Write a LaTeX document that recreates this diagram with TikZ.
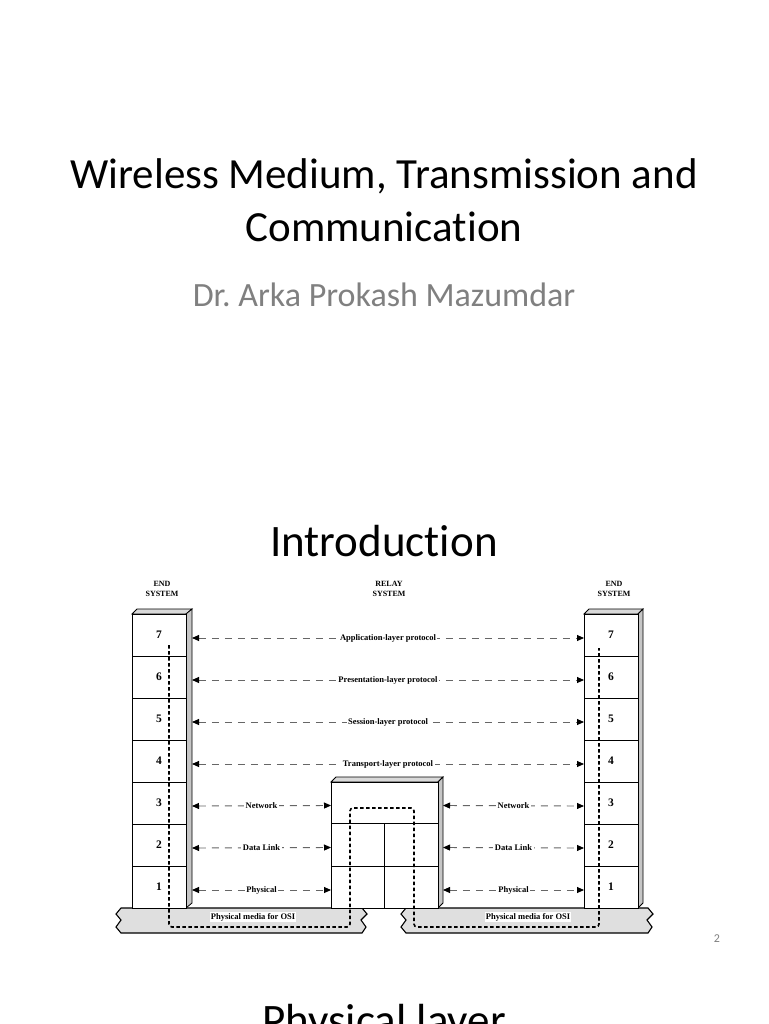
\documentclass[tikz,border=0pt]{standalone}
\usepackage{fontspec}
\setmainfont{Carlito}[Ligatures=NoCommon]
\newfontfamily\tnr{Liberation Serif}
\usetikzlibrary{arrows.meta}
\frenchspacing
\tikzset{
  layer/.style={draw, line width=0.9pt, fill=white, minimum width=54pt, minimum height=42pt, inner sep=0pt, outer sep=0pt, font=\tnr\bfseries\fontsize{11.5}{12}\selectfont},
  cell/.style={draw, line width=0.9pt, fill=white, inner sep=0pt, outer sep=0pt},
  topface/.style={draw, line width=0.8pt, fill=gray!30},
  sideface/.style={draw, line width=0.8pt, fill=gray!45},
  slab/.style={draw, line width=1.1pt, fill=gray!25},
  proto/.style={draw=black!60, line width=0.9pt, dash pattern=on 7pt off 6pt, {Triangle[color=black,length=7pt,width=6pt]}-{Triangle[color=black,length=7pt,width=6pt]}},
  lbl/.style={fill=white, inner sep=1.5pt, font=\tnr\bfseries\fontsize{8.5}{9}\selectfont},
  syslbl/.style={align=center, font=\tnr\bfseries\fontsize{8}{9.5}\selectfont},
  mediatxt/.style={fill=white, inner sep=1pt, font=\tnr\bfseries\fontsize{8.5}{9}\selectfont},
  datapath/.style={draw=black, line width=1.6pt, dash pattern=on 3.5pt off 2.5pt, rounded corners=3pt},
  title/.style={font=\fontsize{43}{50}\selectfont, anchor=base},
}
\begin{document}
\begin{tikzpicture}[x=1pt, y=-1pt]
\useasboundingbox (0,0) rectangle (768,1024);
\clip (0,0) rectangle (768,1024);
\fill[white] (0,0) rectangle (768,1024);

% Titles
\node[title] (t1) at (384,189) {Wireless Medium, Transmission and};
\node[title] (t2) at (384,241) {Communication};
\node[anchor=base, font=\fontsize{34}{40}\selectfont, text=black!50] (sub) at (384,306) {Dr. Arka Prokash Mazumdar};
\node[anchor=base, font=\fontsize{45}{52}\selectfont] (intro) at (384,556) {Introduction};
\node[anchor=base, font=\fontsize{45}{52}\selectfont] (phys) at (384,1035) {Physical layer};
\node[anchor=base, font=\fontsize{12}{14}\selectfont, text=black!50] (pnum) at (717,942) {2};

% System labels
\node[syslbl] (les) at (162,589) {END\\SYSTEM};
\node[syslbl] (rel) at (389,589) {RELAY\\SYSTEM};
\node[syslbl] (res) at (614,589) {END\\SYSTEM};

% Physical media slabs
\path[slab] (121,908) -- (362,908) -- (367,914) -- (361,920) -- (366,927) -- (362,933)
  -- (121,933) -- (116,927) -- (121,920) -- (116,914) -- cycle;
\path[slab] (406,908) -- (648,908) -- (653,914) -- (647,920) -- (652,927) -- (648,933)
  -- (406,933) -- (401,927) -- (406,920) -- (401,914) -- cycle;
\node[mediatxt] (m1) at (253,917) {Physical media for OSI};
\node[mediatxt] (m2) at (528,917) {Physical media for OSI};

% Left end system
\path[topface] (132,614) -- (137,609) -- (192,609) -- (186,614) -- cycle;
\path[sideface] (186,614) -- (192,609) -- (192,903) -- (186,908) -- cycle;
\foreach \n/\y in {7/635,6/677,5/719,4/761,3/803,2/845,1/887}
  \node[layer] (L\n) at (159,\y) {\n};

% Right end system
\path[topface] (584,614) -- (589,609) -- (643,609) -- (638,614) -- cycle;
\path[sideface] (638,614) -- (643,609) -- (643,903) -- (638,908) -- cycle;
\foreach \n/\y in {7/635,6/677,5/719,4/761,3/803,2/845,1/887}
  \node[layer] (R\n) at (611,\y) {\n};

% Relay system
\path[topface] (331,782) -- (336,777) -- (443,777) -- (438,782) -- cycle;
\path[sideface] (438,782) -- (443,777) -- (443,903) -- (438,908) -- cycle;
\node[cell, minimum width=107pt, minimum height=41pt] (N3) at (384.5,802.5) {};
\node[cell, minimum width=53pt, minimum height=43pt] (N2a) at (357.5,844.5) {};
\node[cell, minimum width=54pt, minimum height=43pt] (N2b) at (411,844.5) {};
\node[cell, minimum width=53pt, minimum height=42pt] (N1a) at (357.5,887) {};
\node[cell, minimum width=54pt, minimum height=42pt] (N1b) at (411,887) {};

% Protocol arrows
\draw[proto] ([shift={(6,3)}]L7.east) -- ([shift={(0,3)}]R7.west) node[midway, lbl] {Application-layer protocol};
\draw[proto] ([shift={(6,3)}]L6.east) -- ([shift={(0,3)}]R6.west) node[midway, lbl] {Presentation-layer protocol};
\draw[proto] ([shift={(6,3)}]L5.east) -- ([shift={(0,3)}]R5.west) node[midway, lbl] {Session-layer protocol};
\draw[proto] ([shift={(6,3)}]L4.east) -- ([shift={(0,3)}]R4.west) node[midway, lbl] {Transport-layer protocol};
\draw[proto] ([shift={(6,3)}]L3.east) -- ([shift={(0,3)}]N3.west) node[midway, lbl] {Network};
\draw[proto] ([shift={(6,3)}]L2.east) -- ([shift={(0,3)}]N2a.west) node[midway, lbl] {Data Link};
\draw[proto] ([shift={(6,3)}]L1.east) -- ([shift={(0,3)}]N1a.west) node[midway, lbl] {Physical};
\draw[proto] ([shift={(5,3)}]N3.east) -- ([shift={(0,3)}]R3.west) node[midway, lbl] {Network};
\draw[proto] ([shift={(5,3)}]N2b.east) -- ([shift={(0,3)}]R2.west) node[midway, lbl] {Data Link};
\draw[proto] ([shift={(5,3)}]N1b.east) -- ([shift={(0,3)}]R1.west) node[midway, lbl] {Physical};

% Data path
\coordinate (ps) at (169,645);
\coordinate (pe) at (599,648);
\draw[datapath] (ps) -- (169,927) -- (350,927) -- (350,808) -- (414,808) -- (414,927) -- (599,927) -- (pe);
\end{tikzpicture}
\end{document}
